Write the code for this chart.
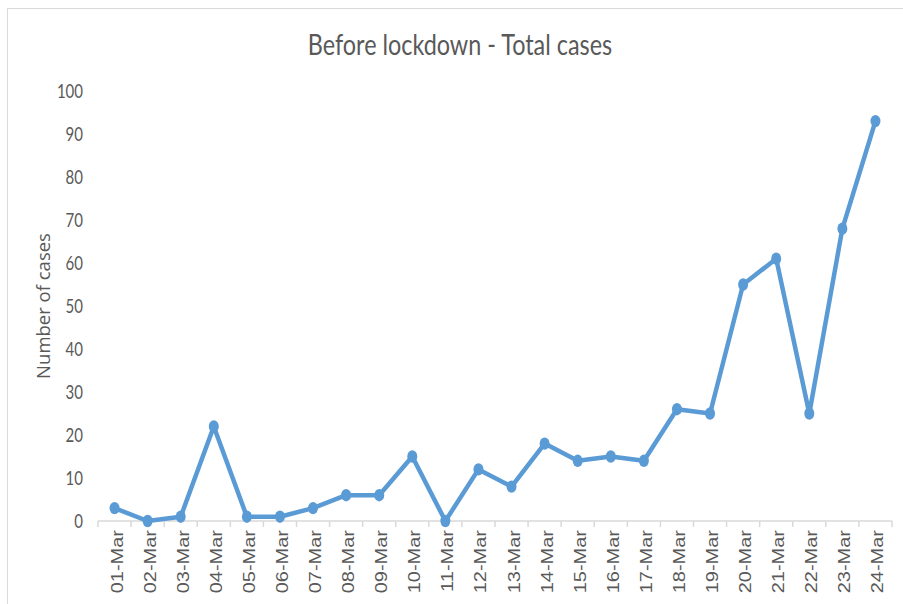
<!DOCTYPE html>
<html>
<head>
<meta charset="utf-8">
<script src="https://cdn.jsdelivr.net/npm/d3@7"></script>
<style>
	body { margin: 0; background: #fff; }
	svg { display: block; }
</style>
</head>
<body>
<div id="chart"></div>
<script>
const dates = [
	'01-Mar', '02-Mar', '03-Mar', '04-Mar', '05-Mar', '06-Mar', '07-Mar', '08-Mar',
	'09-Mar', '10-Mar', '11-Mar', '12-Mar', '13-Mar', '14-Mar', '15-Mar', '16-Mar',
	'17-Mar', '18-Mar', '19-Mar', '20-Mar', '21-Mar', '22-Mar', '23-Mar', '24-Mar'
]
const totalCases = [
	3, 0, 1, 22, 1, 1, 3, 6, 6, 15, 0, 12, 8, 18, 14, 15, 14, 26, 25, 55, 61, 25, 68, 93
]
const yTicks = [0, 10, 20, 30, 40, 50, 60, 70, 80, 90, 100]

const width = 903,
	height = 604
const margin = { top: 91, right: 11, bottom: 83, left: 98 }
// the source picture is a little stretched vertically
const stretch = 1.25

const svg = d3
	.select('#chart')
	.append('svg')
	.attr('width', width)
	.attr('height', height)

// chart area border
svg.append('rect')
	.attr('x', 7.5)
	.attr('y', 8.5)
	.attr('width', width)
	.attr('height', height)
	.attr('fill', 'none')
	.attr('stroke', '#d9d9d9')

const x = d3
	.scaleBand()
	.domain(dates)
	.range([margin.left, width - margin.right])

const y = d3
	.scaleLinear()
	.domain([0, 100])
	.range([height - margin.bottom, margin.top])

svg.append('text')
	.attr('transform', `translate(460,55) scale(1,${stretch})`)
	.attr('text-anchor', 'middle')
	.attr('font-family', 'Lato, sans-serif')
	.attr('font-size', 23.4)
	.attr('fill', '#595959')
	.text('Before lockdown - Total cases')

// y axis: labels only
svg.append('g')
	.selectAll('text')
	.data(yTicks)
	.enter()
	.append('text')
	.attr('transform', d => `translate(83,${y(d)}) scale(1,${stretch})`)
	.attr('dy', '0.36em')
	.attr('text-anchor', 'end')
	.attr('font-family', 'Lato, sans-serif')
	.attr('font-size', 15)
	.attr('fill', '#595959')
	.text(d => d)

svg.append('text')
	.attr('transform', `translate(50,306) rotate(-90)`)
	.attr('text-anchor', 'middle')
	.attr('font-family', '"Open Sans", sans-serif')
	.attr('font-size', 18.5)
	.attr('fill', '#595959')
	.text('Number of cases')

// x axis: ticks between categories
const xBase = y(0)
const xAxis = svg.append('g').attr('transform', `translate(0,${xBase})`)
xAxis.append('line')
	.attr('x1', margin.left)
	.attr('x2', width - margin.right)
	.attr('stroke', '#d9d9d9')
	.attr('stroke-width', 1.5)
xAxis.selectAll('.tick-mark')
	.data(dates.concat(['end']))
	.enter()
	.append('line')
	.attr('class', 'tick-mark')
	.attr('x1', (d, i) => margin.left + i * x.step())
	.attr('x2', (d, i) => margin.left + i * x.step())
	.attr('y1', 0)
	.attr('y2', 6)
	.attr('stroke', '#d9d9d9')
	.attr('stroke-width', 1.5)
xAxis.selectAll('.tick-label')
	.data(dates)
	.enter()
	.append('text')
	.attr('class', 'tick-label')
	.attr('transform', d =>
		`translate(${x(d) + x.bandwidth() / 2 + 8},9) rotate(-90) scale(${stretch},1)`)
	.attr('text-anchor', 'end')
	.attr('font-family', '"Liberation Sans", Arial, sans-serif')
	.attr('font-size', 16)
	.attr('fill', '#595959')
	.text(d => d)

const cx = d => x(d) + x.bandwidth() / 2

const line = d3
	.line()
	.x((d, i) => cx(dates[i]))
	.y(d => y(d))

svg.append('path')
	.datum(totalCases)
	.attr('d', line)
	.attr('fill', 'none')
	.attr('stroke', '#5b9bd5')
	.attr('stroke-width', 4.5)
	.attr('stroke-linejoin', 'round')

svg.selectAll('.point')
	.data(totalCases)
	.enter()
	.append('ellipse')
	.attr('class', 'point')
	.attr('cx', (d, i) => cx(dates[i]))
	.attr('cy', d => y(d))
	.attr('rx', 5)
	.attr('ry', 6.2)
	.attr('fill', '#5b9bd5')
</script>
</body>
</html>
